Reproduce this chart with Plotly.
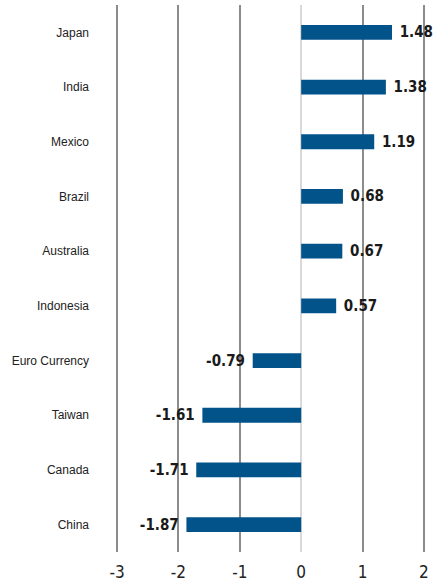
import plotly.graph_objects as go

categories = ["Japan", "India", "Mexico", "Brazil", "Australia", "Indonesia",
              "Euro Currency", "Taiwan", "Canada", "China"]
values = [1.48, 1.38, 1.19, 0.68, 0.67, 0.57, -0.79, -1.61, -1.71, -1.87]
tick_vals = [-3, -2, -1, 0, 1, 2]

NARROW = "DejaVu Sans Condensed, Liberation Sans Narrow, Arial Narrow, sans-serif"

labels = [(" " + f"{v:.2f}") if v >= 0 else (f"{v:.2f}" + " ") for v in values]

fig = go.Figure(go.Bar(
    y=categories, x=values, orientation="h",
    marker=dict(color="#02538a", line=dict(width=0)),
    width=0.27,
    text=labels,
    textposition="outside",
    constraintext="none",
    cliponaxis=False,
    textfont=dict(family=NARROW, size=15, color="#1a1a1a", weight="bold"),
))

fig.update_layout(
    width=439, height=585,
    margin=dict(l=114, r=12, t=5, b=33, autoexpand=False),
    plot_bgcolor="white", paper_bgcolor="white",
    showlegend=False,
    font=dict(family="Liberation Sans, Arial", color="#222222"),
    xaxis=dict(range=[-3.05, 2.05], tickvals=tick_vals, ticktext=[str(t) for t in tick_vals],
               showgrid=True, gridcolor="#8c8c8c", gridwidth=1.5,
               zeroline=True, zerolinecolor="#d9d9d9", zerolinewidth=1.5,
               tickfont=dict(family=NARROW, size=17, color="#222222"),
               ticklabelstandoff=8,
               ticks="", showline=False, automargin=False),
    yaxis=dict(categoryorder="array", categoryarray=categories[::-1],
               tickfont=dict(family="Liberation Sans, Arial", size=12, color="#222222"),
               ticklabelstandoff=24, showgrid=False, showline=False, ticks="",
               automargin=False),
)

fig.write_html("out.html",
               config={"displayModeBar": False},
               post_script="document.body.style.margin='0';document.body.style.padding='0';")
